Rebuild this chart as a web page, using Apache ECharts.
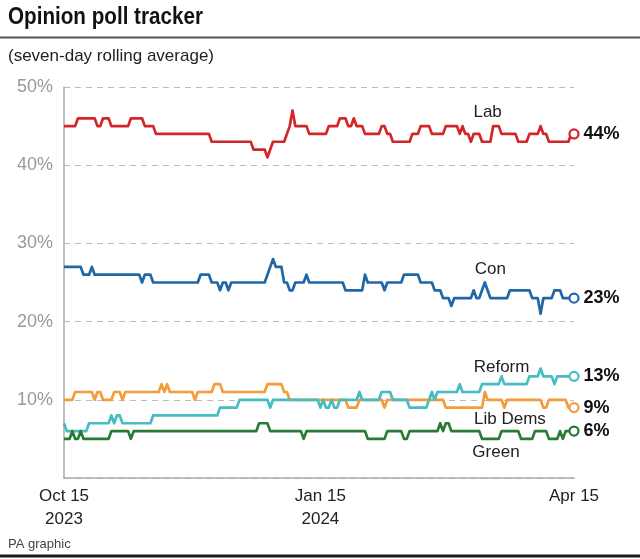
<!DOCTYPE html>
<html><head><meta charset="utf-8">
<script src="https://cdn.jsdelivr.net/npm/echarts@6/dist/echarts.min.js"></script>
<style>html,body{margin:0;padding:0;background:#fff}#c{width:640px;height:559px}</style>
</head><body><div id="c"></div>
<script>
// ---- data ----
const startDate = '2023-10-15';
const dayCount = 184;
const tickDates = ['2023-10-15', '2024-01-15', '2024-04-15'];
const tickLabels = ['Oct 15\n2023', 'Jan 15\n2024', 'Apr 15'];
const partyNames = ['Lab', 'Con', 'Lib Dems', 'Reform', 'Green'];

const lab = [
45,45,45,45,45,46,46,46,46,46, 46,46,45,45,46,46,46,45,45,45,
45,45,45,45,46,46,46,46,46,45, 45,45,45,44,44,44,44,44,44,44,
44,44,44,44,44,44,44,44,44,44, 44,44,44,43,43,43,43,43,43,43,
43,43,43,43,43,43,43,43,42,42, 42,42,42,41,42,43,43,43,43,43,
44,45,47,45,45,45,45,45,44,44, 44,44,44,44,44,45,45,45,45,46,
46,46,45,45,46,45,45,45,44,44, 44,44,44,44,45,45,44,44,43,43,
43,43,43,43,43,44,44,44,45,45, 45,45,44,44,44,44,44,45,45,45,
45,45,44,45,44,44,43,44,44,44, 43,43,43,43,45,45,45,44,44,44,
44,44,44,43,43,43,43,44,44,44, 44,45,44,44,43,43,43,43,43,43,
43,43,44,44];

const con = [
27,27,27,27,27,27,27,26,26,26, 27,26,26,26,26,26,26,26,26,26,
26,26,26,26,26,26,26,26,25,26, 26,26,25,25,25,25,25,25,25,25,
25,25,25,25,25,25,25,25,25,26, 26,26,26,25,25,25,24,25,25,24,
25,25,25,25,25,25,25,25,25,25, 25,25,25,26,27,28,27,27,27,25,
25,24,24,25,25,25,25,26,25,25, 25,25,25,25,25,25,25,25,25,25,
25,24,24,24,24,24,24,24,26,25, 25,25,25,25,25,24,25,25,25,25,
25,25,26,26,26,26,26,26,25,25, 25,25,25,24,24,24,23,23,23,22,
23,23,23,23,23,23,23,24,23,23, 24,25,24,23,23,23,23,23,23,23,
24,24,24,24,24,24,24,24,23,23, 23,21,23,23,23,23,24,24,24,23,
23,23,23,23];

const libDems = [
10,10,10,10,11,11,11,11,11,11, 11,10,11,11,10,10,10,10,11,11,
11,10,11,11,11,11,11,11,11,11, 11,11,11,11,11,12,11,12,11,11,
11,11,11,11,11,11,11,10,11,11, 11,11,11,11,12,12,12,11,11,11,
11,11,11,11,11,11,11,11,11,11, 11,11,11,12,12,12,12,12,12,11,
11,10,10,10,10,10,10,10,10,10, 10,10,10,10,10,10,10,10,10,10,
10,10,9,9,9,9,10,10,10,10, 10,10,10,10,10,9,10,10,10,10,
10,10,10,10,10,10,10,10,10,10, 10,10,10,10,10,10,10,9,9,9,
9,9,9,9,9,9,9,9,9,9, 9,11,10,10,10,10,10,10,9,10,
10,10,10,10,10,10,10,10,10,10, 10,10,9,9,10,10,10,10,10,10,
10,9,9,9];

const reform = [
7,6,6,6,6,6,6,6,6,7, 7,7,7,7,7,7,7,8,7,8,
8,7,7,7,7,7,7,7,7,7, 7,7,8,8,8,8,8,8,8,8,
8,8,8,8,8,8,8,8,8,8, 8,8,8,8,8,8,9,9,9,9,
9,9,9,10,10,10,10,10,10,10, 10,10,10,10,9,10,10,10,10,10,
10,10,10,10,10,10,10,10,10,10, 10,10,9,10,9,9,10,9,9,10,
10,10,10,10,10,10,11,10,10,10, 10,10,10,10,11,11,11,11,10,10,
10,10,10,10,9,9,9,9,9,9, 9,10,11,10,11,11,11,11,11,11,
11,11,12,11,11,11,11,11,11,11, 12,12,12,12,12,12,12,13,12,12,
12,12,12,12,12,12,12,13,13,13, 13,14,13,13,13,13,12,13,13,13,
13,13,13,13];

const green = [
5,5,5,6,5,5,6,5,5,5, 5,5,5,5,5,5,5,6,6,6,
6,6,6,6,5,6,6,6,6,6, 6,6,6,6,6,6,6,6,6,6,
6,6,6,6,6,6,6,6,6,6, 6,6,6,6,6,6,6,6,6,6,
6,6,6,6,6,6,6,6,6,6, 7,7,7,7,6,6,6,6,6,6,
6,6,6,6,6,6,5,6,6,6, 6,6,6,6,6,6,6,6,6,6,
6,6,6,6,6,6,6,6,6,5, 5,5,5,5,5,5,6,6,6,6,
6,6,5,5,6,6,6,6,6,6, 6,6,6,6,6,7,6,7,7,6,
6,6,6,6,6,6,6,6,6,6, 5,5,5,5,5,5,5,6,6,6,
6,6,6,6,5,5,5,5,5,6, 6,6,6,6,5,5,5,5,6,5,
6,6,6,6];

// ---- build ----
const dates = [];
const t0 = Date.parse(startDate + 'T00:00:00Z');
for (let i = 0; i < dayCount; i++) dates.push(new Date(t0 + i * 86400000).toISOString().slice(0, 10));

const seriesData = { 'Lab': lab, 'Con': con, 'Lib Dems': libDems, 'Reform': reform, 'Green': green };
const styles = {
  'Lab':      { color: '#d3262b', nameAt: [152, 46.8] },
  'Con':      { color: '#2067a6', nameAt: [153, 26.7] },
  'Lib Dems': { color: '#f39c3a', nameAt: [160, 7.45] },
  'Reform':   { color: '#45bdc3', nameAt: [157, 14.2] },
  'Green':    { color: '#2a7a35', nameAt: [155, 3.3] }
};
const FONT = '"Liberation Sans", Arial, Helvetica, sans-serif';

const series = partyNames.map(name => {
  const d = seriesData[name];
  const st = styles[name];
  const last = d[d.length - 1];
  return {
    name, type: 'line', data: d, symbol: 'none', animation: false,
    lineStyle: { width: 2.7, color: st.color, join: 'round' },
    itemStyle: { color: st.color },
    emphasis: { disabled: true },
    markPoint: {
      animation: false, silent: true,
      data: [
        { coord: [dates[d.length - 1], last], symbol: 'circle', symbolSize: 9,
          itemStyle: { color: '#fff', borderColor: st.color, borderWidth: 2.2 },
          label: { show: true, position: 'right', distance: 4, formatter: last + '%',
                   color: '#111', fontSize: 18, fontWeight: 'bold', fontFamily: FONT } },
        { coord: [dates[st.nameAt[0]], st.nameAt[1]], symbol: 'circle', symbolSize: 0,
          itemStyle: { color: 'rgba(0,0,0,0)' },
          label: { show: true, position: 'inside', formatter: name,
                   color: '#222', fontSize: 17, fontFamily: FONT } }
      ]
    }
  };
});

const chart = echarts.init(document.getElementById('c'), null, { renderer: 'canvas' });
chart.setOption({
  backgroundColor: '#fff',
  animation: false,
  textStyle: { fontFamily: FONT },
  grid: { left: 64, right: 66, top: 87, bottom: 81, outerBoundsMode: 'none' },
  xAxis: {
    type: 'category', data: dates, boundaryGap: false,
    axisLine: { show: true, lineStyle: { color: '#aaa', width: 1.5 } },
    axisTick: { show: false },
    splitLine: { show: false },
    axisLabel: {
      interval: (i, v) => tickDates.includes(v),
      formatter: v => tickLabels[tickDates.indexOf(v)] || '',
      color: '#222', fontSize: 17, lineHeight: 23, margin: 7, fontFamily: FONT
    }
  },
  yAxis: {
    type: 'value', min: 0, max: 50, interval: 10,
    axisLine: { show: true, lineStyle: { color: '#aaa', width: 1.5 } },
    axisTick: { show: false },
    axisLabel: { color: '#999', fontSize: 18, margin: 11, fontFamily: FONT,
                 formatter: v => v === 0 ? '' : v + '%' },
    splitLine: { show: true, lineStyle: { type: [6, 5], color: '#bbb', width: 1.2 } }
  },
  series,
  graphic: [
    { type: 'text', x: 8, y: 5, scaleX: 0.86, style: { text: 'Opinion poll tracker', fill: '#111',
      font: 'bold 24px ' + FONT, textVerticalAlign: 'top' } },
    { type: 'rect', shape: { x: 0, y: 36.5, width: 640, height: 2 }, style: { fill: '#555' } },
    { type: 'text', left: 8, top: 48, style: { text: '(seven-day rolling average)', fill: '#222',
      font: '17px ' + FONT } },
    { type: 'text', left: 8, top: 538, style: { text: 'PA graphic', fill: '#444',
      font: '13px ' + FONT } },
    { type: 'rect', shape: { x: 0, y: 554.5, width: 640, height: 3 }, style: { fill: '#1a1a1a' } }
  ]
});
</script></body></html>
